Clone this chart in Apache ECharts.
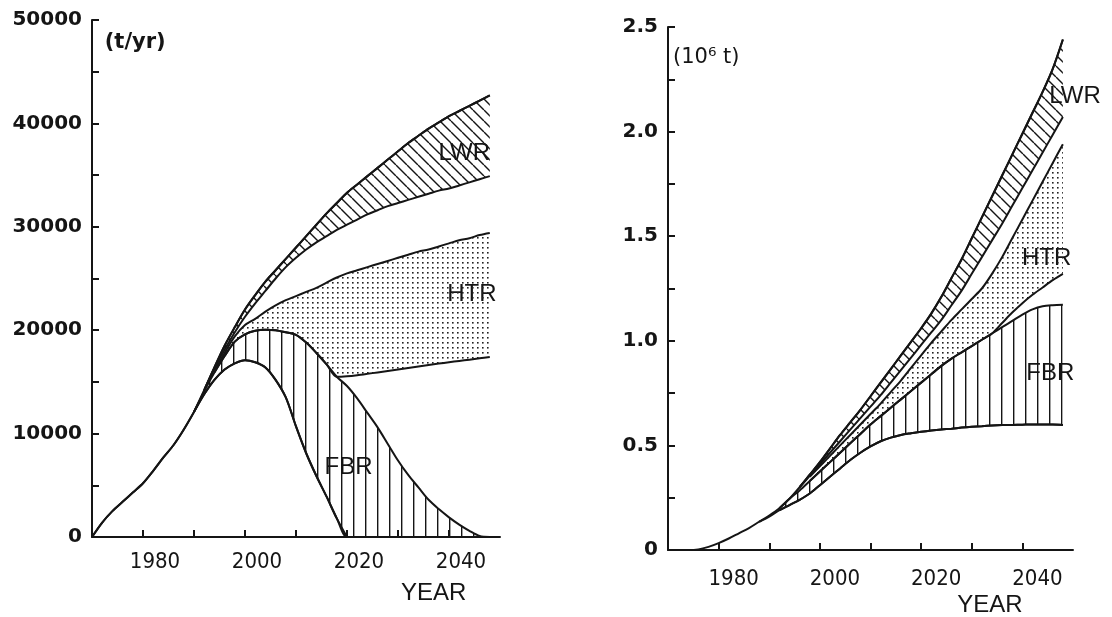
<!DOCTYPE html>
<html>
<head>
<meta charset="utf-8">
<title>Uranium demand by reactor type</title>
<script src="https://cdn.jsdelivr.net/npm/echarts@6/dist/echarts.min.js"></script>
<style>
  html, body { margin: 0; padding: 0; background: #fff; }
  #chart { width: 1112px; height: 617px; }
</style>
</head>
<body>
<div id="chart"></div>
<script>
// shared year grid for both panels
var years = [1970, 1972, 1974, 1976, 1978, 1980, 1982, 1984, 1986, 1988,
             1990, 1992, 1994, 1996, 1998, 2000, 2002, 2004, 2006, 2008,
             2010, 2012, 2014, 2016, 2018, 2020, 2022, 2024, 2026, 2028,
             2030, 2032, 2034, 2036, 2038, 2040, 2042, 2044, 2046, 2048];
var decadeTicks = [1980, 1990, 2000, 2010, 2020, 2030, 2040];
var yearLabels = [1980, 2000, 2020, 2040];

// left panel, annual demand (t/yr)
var totalL = [0, 1400, 2500, 3400, 4300, 5200, 6400, 7700, 8900, 10400,
              12100, 14200, 16400, 18500, 20300, 22000, 23400, 24700, 25800, 26900,
              28000, 29100, 30200, 31300, 32300, 33300, 34100, 34900, 35700, 36500,
              37300, 38100, 38800, 39500, 40100, 40700, 41200, 41700, 42200, 42700];
var lwrLowL = [null, null, null, null, null, null, null, null, null, null,
               null, 14200, 16300, 18100, 19800, 21300, 22600, 23800, 25000, 26100,
               27000, 27800, 28500, 29100, 29700, 30200, 30700, 31200, 31600, 32000,
               32300, 32600, 32900, 33200, 33500, 33700, 34000, 34300, 34600, 34900];
var htrTopL = [null, null, null, null, null, null, null, null, null, null,
               null, null, 16100, 17800, 19400, 20500, 21100, 21800, 22400, 22900,
               23300, 23700, 24100, 24600, 25100, 25500, 25800, 26100, 26400, 26700,
               27000, 27300, 27600, 27800, 28100, 28400, 28700, 28900, 29200, 29400];
var htrFloorL = [null, null, null, null, null, null, null, null, null, null,
                 null, null, null, null, null, null, null, null, null, null,
                 null, null, null, null, 15500, 15550, 15650, 15780, 15920, 16060,
                 16200, 16350, 16500, 16640, 16770, 16900, 17030, 17150, 17280, 17400];
var fbrTopL = [null, null, null, null, null, null, null, null, null, null,
               12100, 14100, 15900, 17500, 18900, 19600, 19950, 20050, 20000, 19800,
               19550, 18800, 17800, 16700, 15500, 14600, 13400, 12000, 10600, 9000,
               7400, 6000, 4800, 3600, 2700, 1900, 1200, 600, 100, 0];
var bellL = [0, 1400, 2500, 3400, 4300, 5200, 6400, 7700, 8900, 10400,
             12100, 13800, 15200, 16200, 16800, 17100, 16900, 16400, 15200, 13500,
             10700, 8100, 5900, 3900, 1800, 0, 0, 0, 0, 0,
             0, 0, 0, 0, 0, 0, 0, 0, 0, 0];

// right panel, cumulative demand (10^6 t)
var totalR = [0, 0, 0, 0.003, 0.015, 0.033, 0.055, 0.08, 0.105, 0.135,
              0.165, 0.2, 0.245, 0.3, 0.36, 0.42, 0.485, 0.55, 0.61, 0.67,
              0.735, 0.8, 0.865, 0.93, 0.995, 1.06, 1.13, 1.21, 1.3, 1.39,
              1.49, 1.59, 1.69, 1.79, 1.89, 1.99, 2.09, 2.19, 2.3, 2.44];
var lwrLowR = [null, null, null, null, null, null, null, null, null, null,
               null, null, null, 0.3, 0.355, 0.41, 0.465, 0.52, 0.575, 0.63,
               0.685, 0.74, 0.8, 0.86, 0.92, 0.98, 1.04, 1.1, 1.17, 1.24,
               1.32, 1.4, 1.48, 1.56, 1.645, 1.73, 1.815, 1.9, 1.985, 2.07];
var htrTopR = [null, null, null, null, null, null, null, null, null, null,
               null, null, null, null, 0.35, 0.4, 0.45, 0.5, 0.55, 0.6,
               0.65, 0.7, 0.755, 0.81, 0.87, 0.93, 0.99, 1.045, 1.1, 1.15,
               1.2, 1.25, 1.32, 1.4, 1.49, 1.58, 1.67, 1.76, 1.85, 1.94];
var htrFloorR = [null, null, null, null, null, null, null, null, null, null,
                 null, null, null, null, null, null, null, null, null, null,
                 null, null, null, null, null, null, null, null, null, null,
                 null, null, 1.035, 1.085, 1.135, 1.18, 1.22, 1.255, 1.29, 1.32];
var fbrTopR = [null, null, null, null, null, null, null, null, null, null,
               null, 0.2, 0.245, 0.285, 0.33, 0.375, 0.42, 0.465, 0.51, 0.555,
               0.6, 0.64, 0.68, 0.72, 0.76, 0.8, 0.84, 0.88, 0.915, 0.945,
               0.975, 1.005, 1.035, 1.065, 1.095, 1.125, 1.15, 1.165, 1.17, 1.172];
var fbrLowR = [null, null, null, null, null, null, null, null, null, 0.135,
               0.16, 0.19, 0.215, 0.24, 0.27, 0.31, 0.35, 0.39, 0.43, 0.465,
               0.495, 0.52, 0.537, 0.55, 0.558, 0.565, 0.571, 0.576, 0.58, 0.585,
               0.589, 0.592, 0.595, 0.597, 0.598, 0.599, 0.6, 0.6, 0.6, 0.598];

var INK = '#151515';
var labelFont = '"DejaVu Sans Condensed", "Liberation Sans Narrow", "Liberation Sans", sans-serif';

function pattern(kind) {
    var c = document.createElement('canvas');
    var ctx = c.getContext('2d');
    if (kind === 'vline') {
        c.width = 12; c.height = 12;
        ctx.fillStyle = INK;
        ctx.fillRect(5, 0, 1.4, 12);
    } else if (kind === 'diag') {
        var s = 11;
        c.width = s; c.height = s;
        ctx.strokeStyle = INK;
        ctx.lineWidth = 1.4;
        ctx.beginPath();
        [-s, 0, s].forEach(function (k) { ctx.moveTo(k, 0); ctx.lineTo(k + s, s); });
        ctx.stroke();
    } else {
        c.width = 5; c.height = 5;
        ctx.fillStyle = '#222';
        ctx.fillRect(2, 2, 1.6, 1.6);
    }
    return { image: c, repeat: 'repeat' };
}

function pairs(vals) {
    var out = [];
    years.forEach(function (y, i) { if (vals[i] != null) out.push([y, vals[i]]); });
    return out;
}

function merge(first, fallback) {
    return first.map(function (v, i) { return v != null ? v : fallback[i]; });
}

// floor series plus hatched band stacked on it.
// value goes in column 0 so echarts stacks the y values, not the years
function band(name, g, lo, hi, fill) {
    var base = [], diff = [];
    years.forEach(function (y, i) {
        if (lo[i] == null || hi[i] == null) return;
        base.push([lo[i], y]);
        diff.push([hi[i] - lo[i], y]);
    });
    var common = { type: 'line', xAxisIndex: g, yAxisIndex: g, stack: name, symbol: 'none',
                   encode: { x: 1, y: 0 }, smooth: 0.3, silent: true,
                   lineStyle: { color: INK, width: 2 } };
    return [
        Object.assign({}, common, { data: base }),
        Object.assign({}, common, { data: diff, areaStyle: { color: fill, opacity: 1 } })
    ];
}

function plain(g, vals) {
    return { type: 'line', xAxisIndex: g, yAxisIndex: g, symbol: 'none', smooth: 0.3, silent: true,
             data: pairs(vals), lineStyle: { color: INK, width: 2 } };
}

function xAxisFor(g, margin, shift) {
    return {
        gridIndex: g, type: 'value', min: 1970, max: 2050,
        axisLine: { lineStyle: { color: INK, width: 2 } },
        axisTick: { inside: true, length: 7, customValues: decadeTicks, lineStyle: { color: INK, width: 2 } },
        axisLabel: { customValues: yearLabels, color: INK, fontSize: 22, fontFamily: labelFont,
                     margin: margin, padding: [0, 0, 0, shift], formatter: function (v) { return String(v); } },
        splitLine: { show: false }
    };
}

function yAxisFor(g, max, step, fmt) {
    return {
        gridIndex: g, type: 'value', min: 0, max: max, interval: step,
        axisLine: { show: true, lineStyle: { color: INK, width: 2 } },
        axisTick: { show: true, inside: true, length: 7, lineStyle: { color: INK, width: 2 } },
        axisLabel: { color: INK, fontSize: 20, fontWeight: 'bold', fontFamily: '"DejaVu Sans", sans-serif',
                     margin: 10, formatter: fmt },
        splitLine: { show: false }
    };
}

var dots = pattern('dots'), diag = pattern('diag'), vline = pattern('vline');

var series = [].concat(
    band('Llwr', 0, lwrLowL, totalL, diag),
    band('Lhtr', 0, merge(htrFloorL, fbrTopL), htrTopL, dots),
    band('Lfbr', 0, bellL, fbrTopL, vline),
    [plain(0, totalL), plain(0, bellL.slice(0, 26))],
    band('Rlwr', 1, lwrLowR, totalR, diag),
    band('Rhtr', 1, merge(htrFloorR, fbrTopR), htrTopR, dots),
    band('Rfbr', 1, fbrLowR, fbrTopR, vline),
    [plain(1, totalR), plain(1, fbrLowR)]
);

var chart = echarts.init(document.getElementById('chart'));
chart.setOption({
    animation: false,
    backgroundColor: '#fff',
    grid: [
        { left: 92, top: 20, width: 408, height: 517 },
        { left: 668, top: 27, width: 405, height: 523 }
    ],
    xAxis: [xAxisFor(0, 14, 24), xAxisFor(1, 18, 30)],
    yAxis: [
        yAxisFor(0, 50000, 5000, function (v) { return v % 10000 === 0 ? String(v) : ''; }),
        yAxisFor(1, 2.5, 0.25, function (v) {
            var r = Math.round(v * 4);
            if (r % 2) return '';
            return r === 0 ? '0' : v.toFixed(1);
        })
    ],
    series: series
});

// text notes placed in data coordinates
function note(g, x, y, text, font, align) {
    var p = chart.convertToPixel({ gridIndex: g }, [x, y]);
    return { type: 'text', x: p[0], y: p[1], silent: true,
             style: { text: text, font: font, fill: INK, align: align || 'center', verticalAlign: 'middle' } };
}
var areaFont = '24px "Liberation Sans", sans-serif';
chart.setOption({
    graphic: [
        note(0, 1972.5, 47800, '(t/yr)', 'bold 21px "DejaVu Sans", sans-serif', 'left'),
        note(1, 1971, 2.355, '(10\u2076 t)', '21px "DejaVu Sans", sans-serif', 'left'),
        note(0, 2037, -5460, 'YEAR', areaFont),
        note(1, 2033.6, -0.265, 'YEAR', areaFont),
        note(0, 2043, 37100, 'LWR', areaFont),
        note(0, 2044.5, 23500, 'HTR', areaFont),
        note(0, 2020.3, 6700, 'FBR', areaFont),
        note(1, 2050.4, 2.166, 'LWR', areaFont),
        note(1, 2044.8, 1.392, 'HTR', areaFont),
        note(1, 2045.5, 0.846, 'FBR', areaFont)
    ]
});
</script>
</body>
</html>
